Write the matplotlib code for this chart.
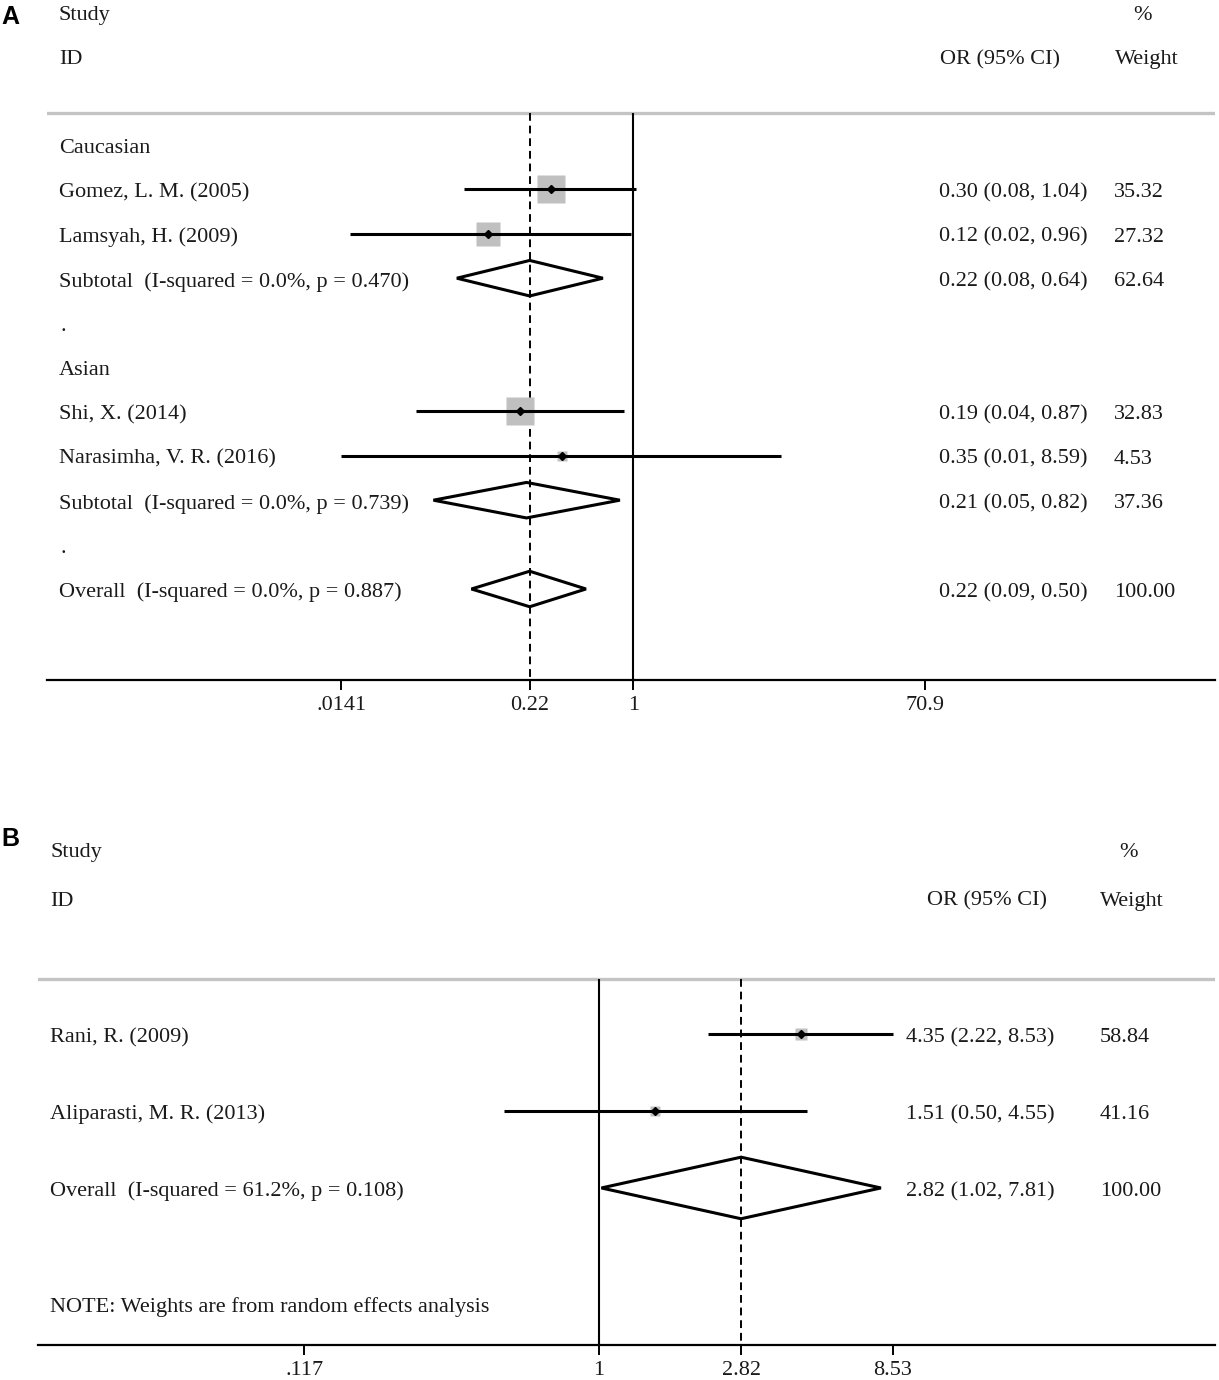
import numpy as np
import matplotlib
matplotlib.use('Agg')
import matplotlib.pyplot as plt
import matplotlib.transforms as mtransforms
from matplotlib.patches import Polygon

plt.rcParams['font.family'] = ['Liberation Serif', 'DejaVu Serif']

# ---------------- Data: panel A ----------------
a_groups = ['Caucasian', 'Asian']
a_study_group = [0, 0, 1, 1]
a_studies = ['Gomez, L. M. (2005)', 'Lamsyah, H. (2009)',
             'Shi, X. (2014)', 'Narasimha, V. R. (2016)']
a_or = [0.30, 0.12, 0.19, 0.35]
a_lo = [0.084, 0.016, 0.042, 0.0141]
a_hi = [1.04, 0.96, 0.87, 8.59]
a_w = [35.32, 27.32, 32.83, 4.53]
a_sub_or = [0.22, 0.21]
a_sub_lo = [0.076, 0.054]
a_sub_hi = [0.64, 0.82]
a_sub_w = [62.64, 37.36]
a_sub_i2 = [0.0, 0.0]
a_sub_p = [0.470, 0.739]
a_all_or, a_all_lo, a_all_hi, a_all_w = 0.22, 0.094, 0.50, 100.00
a_all_i2, a_all_p = 0.0, 0.887
a_ticks = [0.0141, 0.22, 1, 70.9]
a_ticklabels = ['.0141', '0.22', '1', '70.9']

# ---------------- Data: panel B ----------------
b_studies = ['Rani, R. (2009)', 'Aliparasti, M. R. (2013)']
b_or = [4.35, 1.51]
b_lo = [2.22, 0.50]
b_hi = [8.53, 4.55]
b_w = [58.84, 41.16]
b_all_or, b_all_lo, b_all_hi, b_all_w = 2.82, 1.02, 7.81, 100.00
b_all_i2, b_all_p = 61.2, 0.108
b_ticks = [0.117, 1, 2.82, 8.53]
b_ticklabels = ['.117', '1', '2.82', '8.53']

W, H = 1219, 1380
fig = plt.figure(figsize=(W / 100, H / 100), dpi=100)
FS = 16
TXT = '#1a1a1a'
BOX = '#c0c0c0'


def fmt_ci(o, l, h):
    return f"{o:.2f} ({l:.2f}, {h:.2f})"


def setup_axes(ax, xl, yl, ticks, labels, pad):
    ax.set_xscale('log')
    ax.set_xlim(*xl)
    ax.set_ylim(*yl)
    ax.minorticks_off()
    ax.set_xticks(ticks)
    ax.set_xticklabels(labels)
    ax.minorticks_off()
    ax.set_yticks([])
    for s in ['top', 'left', 'right']:
        ax.spines[s].set_visible(False)
    ax.spines['bottom'].set_linewidth(1.6)
    ax.tick_params(axis='x', direction='out', length=7, width=1.4,
                   labelsize=FS, pad=pad, colors='black', labelcolor=TXT)
    ax.patch.set_alpha(0)


def study_row(ax, y, o, l, h, w, scale):
    ax.plot([l, h], [y, y], color='black', lw=2.2, solid_capstyle='butt', zorder=3)
    ax.plot([o], [y], marker='s', ms=scale * np.sqrt(w), color=BOX, mec='none', zorder=2)
    ax.plot([o], [y], marker='D', ms=4.2, color='black', zorder=4)


def diamond(ax, y, o, l, h, hh=0.4):
    ax.add_patch(Polygon([(l, y), (o, y - hh), (h, y), (o, y + hh)], closed=True,
                         fill=False, ec='black', lw=2.2, zorder=3))


# ================= Panel A =================
axA = fig.add_axes([47 / W, 1 - 680 / H, (1215 - 47) / W, 680 / H])
setup_axes(axA, (np.exp(-8.558), np.exp(8.486)), (12.05, -3.266), a_ticks, a_ticklabels, 4.5)
tA = mtransforms.offset_copy(mtransforms.blended_transform_factory(fig.transFigure, axA.transData),
                             fig=fig, y=-3.5, units='dots')

top_row_A = -0.72
axA.axhline(top_row_A, color='#c4c4c4', lw=2.4, zorder=1)
axA.vlines(1, top_row_A, 12.05, color='black', lw=1.5, zorder=2)
axA.vlines(a_all_or, top_row_A, 12.05, color='black', lw=1.4,
           linestyles=(0, (4, 2.5)), zorder=1)

# headers
axA.text(59 / W, -3, 'Study', transform=tA, fontsize=FS, color=TXT, va='center')
axA.text(59 / W, -2, 'ID', transform=tA, fontsize=FS, color=TXT, va='center')
axA.text(940 / W, -2, 'OR (95% CI)', transform=tA, fontsize=FS, color=TXT, va='center')
axA.text(1115 / W, -2, 'Weight', transform=tA, fontsize=FS, color=TXT, va='center')
axA.text(1142 / W, -3, '%', transform=tA, fontsize=FS, color=TXT, va='center', ha='center')

row = 0
for g, gname in enumerate(a_groups):
    axA.text(59 / W, row, gname, transform=tA, fontsize=FS, color=TXT, va='center')
    row += 1
    for i in [k for k in range(len(a_studies)) if a_study_group[k] == g]:
        study_row(axA, row, a_or[i], a_lo[i], a_hi[i], a_w[i], 3.42)
        axA.text(59 / W, row, a_studies[i], transform=tA, fontsize=FS, color=TXT, va='center')
        axA.text(939 / W, row, fmt_ci(a_or[i], a_lo[i], a_hi[i]), transform=tA,
                 fontsize=FS, color=TXT, va='center')
        axA.text(1114 / W, row, f"{a_w[i]:.2f}", transform=tA, fontsize=FS, color=TXT, va='center')
        row += 1
    diamond(axA, row, a_sub_or[g], a_sub_lo[g], a_sub_hi[g])
    axA.text(59 / W, row, f"Subtotal  (I-squared = {a_sub_i2[g]:.1f}%, p = {a_sub_p[g]:.3f})",
             transform=tA, fontsize=FS, color=TXT, va='center')
    axA.text(939 / W, row, fmt_ci(a_sub_or[g], a_sub_lo[g], a_sub_hi[g]), transform=tA,
             fontsize=FS, color=TXT, va='center')
    axA.text(1114 / W, row, f"{a_sub_w[g]:.2f}", transform=tA, fontsize=FS, color=TXT, va='center')
    row += 1
    axA.text(60 / W, row, '.', transform=tA, fontsize=FS, color=TXT, va='center')
    row += 1

diamond(axA, row, a_all_or, a_all_lo, a_all_hi)
axA.text(59 / W, row, f"Overall  (I-squared = {a_all_i2:.1f}%, p = {a_all_p:.3f})",
         transform=tA, fontsize=FS, color=TXT, va='center')
axA.text(939 / W, row, fmt_ci(a_all_or, a_all_lo, a_all_hi), transform=tA,
         fontsize=FS, color=TXT, va='center')
axA.text(1114 / W, row, f"{a_all_w:.2f}", transform=tA, fontsize=FS, color=TXT, va='center')

# ================= Panel B =================
axB = fig.add_axes([38 / W, 1 - 1345 / H, (1215 - 38) / W, (1345 - 820) / H])
setup_axes(axB, (np.exp(-4.084), np.exp(4.489)), (4.04, -2.78), b_ticks, b_ticklabels, 4.5)
tB = mtransforms.offset_copy(mtransforms.blended_transform_factory(fig.transFigure, axB.transData),
                             fig=fig, y=-3.5, units='dots')

top_row_B = -0.714
axB.axhline(top_row_B, color='#c4c4c4', lw=2.4, zorder=1)
axB.vlines(1, top_row_B, 4.04, color='black', lw=1.5, zorder=2)
axB.vlines(b_all_or, top_row_B, 4.04, color='black', lw=1.4,
           linestyles=(0, (4, 2.5)), zorder=1)

axB.text(50 / W, -2.40, 'Study', transform=tB, fontsize=FS, color=TXT, va='center')
axB.text(50 / W, -1.77, 'ID', transform=tB, fontsize=FS, color=TXT, va='center')
axB.text(927 / W, -1.77, 'OR (95% CI)', transform=tB, fontsize=FS, color=TXT, va='center')
axB.text(1100 / W, -1.77, 'Weight', transform=tB, fontsize=FS, color=TXT, va='center')
axB.text(1128 / W, -2.40, '%', transform=tB, fontsize=FS, color=TXT, va='center', ha='center')

for i in range(len(b_studies)):
    study_row(axB, i, b_or[i], b_lo[i], b_hi[i], b_w[i], 1.12)
    axB.text(50 / W, i, b_studies[i], transform=tB, fontsize=FS, color=TXT, va='center')
    axB.text(906 / W, i, fmt_ci(b_or[i], b_lo[i], b_hi[i]), transform=tB,
             fontsize=FS, color=TXT, va='center')
    axB.text(1100 / W, i, f"{b_w[i]:.2f}", transform=tB, fontsize=FS, color=TXT, va='center')

rb = len(b_studies)
diamond(axB, rb, b_all_or, b_all_lo, b_all_hi)
axB.text(50 / W, rb, f"Overall  (I-squared = {b_all_i2:.1f}%, p = {b_all_p:.3f})",
         transform=tB, fontsize=FS, color=TXT, va='center')
axB.text(906 / W, rb, fmt_ci(b_all_or, b_all_lo, b_all_hi), transform=tB,
         fontsize=FS, color=TXT, va='center')
axB.text(1100 / W, rb, f"{b_all_w:.2f}", transform=tB, fontsize=FS, color=TXT, va='center')
axB.text(50 / W, rb + 1.5, 'NOTE: Weights are from random effects analysis',
         transform=tB, fontsize=FS, color=TXT, va='center')

# panel letters
fig.text(1 / W, 1 - 17 / H, 'A', fontsize=18, fontweight='bold',
         family=['Liberation Sans', 'DejaVu Sans'], va='center', ha='left')
fig.text(1 / W, 1 - 839 / H, 'B', fontsize=18, fontweight='bold',
         family=['Liberation Sans', 'DejaVu Sans'], va='center', ha='left')

fig.savefig('out.png', dpi=100)
